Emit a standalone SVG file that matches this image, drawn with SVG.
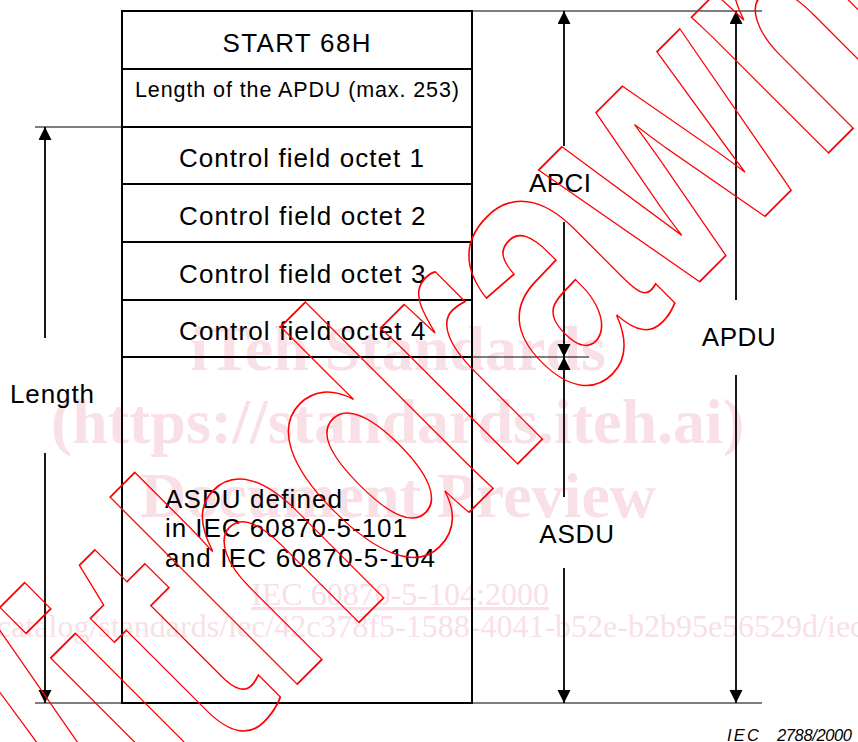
<svg xmlns="http://www.w3.org/2000/svg" width="858" height="742" viewBox="0 0 858 742">
<style>
.t{font-family:"Liberation Sans",Arial,sans-serif;fill:#000;font-size:26px}
.s{font-size:21.5px}
.i{font-size:16.5px;font-style:italic}
.box{fill:none;stroke:#000;stroke-width:2}
.sep{stroke:#000;stroke-width:2}
.ext{stroke:#000;stroke-width:1.2}
.arr{stroke:#000;stroke-width:1.8;fill:none}
.wm{font-family:"Liberation Serif","Times New Roman",serif;fill:#f9e0e7;text-anchor:middle}
.wb{font-weight:bold;font-size:64px}
.wr{font-size:32px}
.wd{font-family:"Liberation Sans",Arial,sans-serif;font-weight:bold;font-size:365px;fill:none;stroke:#ff0000;stroke-width:1.8}
</style>
<defs>
<marker id="ah" markerUnits="userSpaceOnUse" markerWidth="14" markerHeight="14" refX="13" refY="6.5" orient="auto">
<path d="M0,0 L13,6.5 L0,13 z" fill="#000"/>
</marker>
</defs>
<rect width="858" height="742" fill="#fff"/>
<g id="watermark-text">
<text class="wm wb" x="398" y="370">iTeh Standards</text>
<text class="wm wb" x="397.5" y="443">(https://standards.iteh.ai)</text>
<text class="wm wb" x="398" y="517">Document Preview</text>
<text class="wm wr" x="400" y="605" text-decoration="underline">IEC 60870-5-104:2000</text>
<text class="wm wr" x="-3" y="637" style="text-anchor:start">catalog/standards/iec/42c378f5-1588-4041-b52e-b2b95e56529d/iec-60870-5-104-2000</text>
</g>
<g id="connectors">
<line class="ext" x1="472" y1="11" x2="762" y2="11"/>
<line class="ext" x1="35" y1="127" x2="122" y2="127"/>
<line class="ext" x1="472" y1="357" x2="589" y2="357"/>
<line class="ext" x1="35" y1="703" x2="762" y2="703"/>
<line class="arr" x1="45" y1="338" x2="45" y2="127" marker-end="url(#ah)"/>
<line class="arr" x1="45" y1="453" x2="45" y2="703" marker-end="url(#ah)"/>
<line class="arr" x1="564" y1="146" x2="564" y2="11" marker-end="url(#ah)"/>
<line class="arr" x1="564" y1="222" x2="564" y2="357" marker-end="url(#ah)"/>
<line class="arr" x1="564" y1="497" x2="564" y2="357" marker-end="url(#ah)"/>
<line class="arr" x1="564" y1="568" x2="564" y2="703" marker-end="url(#ah)"/>
<line class="arr" x1="736" y1="300" x2="736" y2="11" marker-end="url(#ah)"/>
<line class="arr" x1="736" y1="375" x2="736" y2="703" marker-end="url(#ah)"/>
</g>
<g id="frame">
<rect class="box" x="122" y="11" width="350" height="692"/>
</g>
<g id="start">
<text class="t" x="222.5" y="52" textLength="148">START 68H</text>
</g>
<g id="length-field">
<line class="sep" x1="122" y1="69" x2="472" y2="69"/>
<text class="t s" x="135" y="97" textLength="324">Length of the APDU (max. 253)</text>
</g>
<g id="cf1">
<line class="sep" x1="122" y1="127" x2="472" y2="127"/>
<text class="t" x="179" y="167" textLength="245">Control field octet 1</text>
</g>
<g id="cf2">
<line class="sep" x1="122" y1="184" x2="472" y2="184"/>
<text class="t" x="179" y="225" textLength="246.5">Control field octet 2</text>
</g>
<g id="cf3">
<line class="sep" x1="122" y1="242" x2="472" y2="242"/>
<text class="t" x="179" y="282.7" textLength="246.5">Control field octet 3</text>
</g>
<g id="cf4">
<line class="sep" x1="122" y1="300" x2="472" y2="300"/>
<text class="t" x="179" y="340" textLength="246.5">Control field octet 4</text>
</g>
<g id="asdu-body">
<line class="sep" x1="122" y1="357" x2="472" y2="357"/>
<text class="t" x="165" y="507.5" textLength="177">ASDU defined</text>
<text class="t" x="165" y="537" textLength="242">in IEC 60870-5-101</text>
<text class="t" x="165" y="567" textLength="270">and IEC 60870-5-104</text>
</g>
<g id="label-length"><text class="t" x="10" y="403" textLength="84">Length</text></g>
<g id="label-apci"><text class="t" x="529" y="191.5" textLength="62">APCI</text></g>
<g id="label-asdu"><text class="t" x="539.3" y="542.5" textLength="74.7">ASDU</text></g>
<g id="label-apdu"><text class="t" x="701.7" y="345.5" textLength="74">APDU</text></g>
<g id="figure-ref">
<text class="t i" x="727" y="741" textLength="32">IEC</text>
<text class="t i" x="777" y="741" textLength="75">2788/2000</text>
</g>
<g id="watermark-stamp">
<text class="wd" transform="translate(5.7,975.7) rotate(-45) scale(0.699,1)">Withdrawn</text>
</g>
</svg>
